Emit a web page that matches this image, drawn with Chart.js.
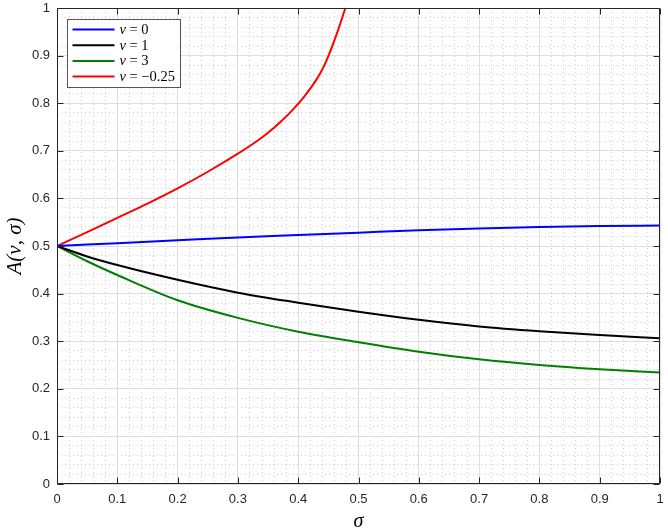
<!DOCTYPE html>
<html><head><meta charset="utf-8">
<script src="https://cdn.jsdelivr.net/npm/chart.js@4"></script>
<style>html,body{margin:0;padding:0;background:#fff}#wrap{width:668px;height:531px;position:relative}</style>
</head><body><div id="wrap"><canvas id="c" width="668" height="531"></canvas></div>
<script>
// ---- data ----
const sigma = [0, 0.05, 0.1, 0.2, 0.3, 0.4, 0.5, 0.6, 0.7, 0.8, 0.9, 1.0];
const nuZero = [0.5, 0.503, 0.506, 0.512, 0.518, 0.523, 0.528, 0.533, 0.537, 0.540, 0.542, 0.543];
const nuOne = [0.5, 0.478, 0.460, 0.429, 0.402, 0.381, 0.362, 0.345, 0.331, 0.321, 0.313, 0.306];
const nuThree = [0.5, 0.468, 0.439, 0.386, 0.349, 0.320, 0.298, 0.278, 0.262, 0.250, 0.241, 0.234];
const sigmaNeg = [0, 0.05, 0.1, 0.15, 0.2, 0.25, 0.3, 0.33, 0.35, 0.37, 0.39, 0.41, 0.43, 0.44, 0.45, 0.46, 0.47, 0.48, 0.483];
const nuNeg = [0.5, 0.529, 0.559, 0.589, 0.621, 0.656, 0.694, 0.719, 0.738, 0.760, 0.785, 0.814, 0.849, 0.871, 0.899, 0.932, 0.968, 1.007, 1.019];
const nuValues = ['0', '1', '3', '\u22120.25'];
const seriesColors = ['#0000ff', '#000000', '#007f00', '#ff0000'];
const xTickValues = [0, 0.1, 0.2, 0.3, 0.4, 0.5, 0.6, 0.7, 0.8, 0.9, 1];
const xTickLabels = ['0', '0.1', '0.2', '0.3', '0.4', '0.5', '0.6', '0.7', '0.8', '0.9', '1'];
const yTickValues = [0, 0.1, 0.2, 0.3, 0.4, 0.5, 0.6, 0.7, 0.8, 0.9, 1];
const yTickLabels = ['0', '0.1', '0.2', '0.3', '0.4', '0.5', '0.6', '0.7', '0.8', '0.9', '1'];
const xTitle = '\u03c3';
const yTitle = 'A(\u03bd, \u03c3)';
const minorStep = 0.02;

const pts = (xs, ys) => xs.map((x, i) => ({x: x, y: ys[i]}));
const seriesData = [pts(sigma, nuZero), pts(sigma, nuOne), pts(sigma, nuThree), pts(sigmaNeg, nuNeg)];

const AX = '#262626';
const tickFont = {family: "'Liberation Sans', Arial, sans-serif", size: 13};

const boxPlugin = {
  id: 'matlabBox',
  afterDraw(chart) {
    const ctx = chart.ctx, a = chart.chartArea;
    const xs = chart.scales.x, ys = chart.scales.y;
    ctx.save();
    ctx.strokeStyle = AX; ctx.lineWidth = 1;
    const L = Math.round(a.left) + 0.5, R = Math.round(a.right) - 0.5;
    const T = Math.round(a.top) + 0.5, B = Math.round(a.bottom) - 0.5;
    ctx.beginPath();
    ctx.rect(L, T, R - L, B - T);
    const tl = 6;
    xs.ticks.forEach(t => {
      const p = Math.round(xs.getPixelForValue(t.value)) + 0.5;
      ctx.moveTo(p, B); ctx.lineTo(p, B - tl);
      ctx.moveTo(p, T); ctx.lineTo(p, T + tl);
    });
    ys.ticks.forEach(t => {
      const p = Math.round(ys.getPixelForValue(t.value)) + 0.5;
      ctx.moveTo(L, p); ctx.lineTo(L + tl, p);
      ctx.moveTo(R, p); ctx.lineTo(R - tl, p);
    });
    ctx.stroke();

    // legend
    const fs = 14.5;
    const upright = fs + "px 'Liberation Serif', 'Times New Roman', serif";
    const italic = 'italic ' + upright;
    const lineLen = 42, rowH = 15.7;
    const items = chart.data.datasets.map((d, i) => ({color: d.borderColor, val: nuValues[i]}));
    let maxW = 0;
    items.forEach(it => {
      ctx.font = italic; const w1 = ctx.measureText('\u03bd').width;
      ctx.font = upright; const w2 = ctx.measureText(' = ' + it.val).width;
      it.w1 = w1; maxW = Math.max(maxW, w1 + w2);
    });
    const bx = Math.round(a.left + 10) + 0.5, by = Math.round(a.top + 11) + 0.5;
    const bw = Math.round(5 + lineLen + 5 + maxW + 6), bh = Math.round(rowH * items.length + 5);
    ctx.fillStyle = '#ffffff';
    ctx.fillRect(bx, by, bw, bh);
    ctx.strokeStyle = '#555555'; ctx.lineWidth = 1;
    ctx.strokeRect(bx, by, bw, bh);
    items.forEach((it, i) => {
      const cy = by + 10 + i * rowH;
      ctx.strokeStyle = it.color; ctx.lineWidth = 2;
      ctx.beginPath(); ctx.moveTo(bx + 5, cy); ctx.lineTo(bx + 5 + lineLen, cy); ctx.stroke();
      ctx.fillStyle = '#000';
      ctx.textBaseline = 'middle';
      const tx = bx + 5 + lineLen + 5;
      ctx.font = italic; ctx.fillText('\u03bd', tx, cy + 0.5);
      ctx.font = upright; ctx.fillText(' = ' + it.val, tx + it.w1, cy + 0.5);
    });
    ctx.restore();
  }
};

new Chart(document.getElementById('c'), {
  type: 'line',
  data: {
    datasets: seriesData.map((d, i) => ({
      label: '\u03bd = ' + nuValues[i],
      data: d,
      borderColor: seriesColors[i],
      backgroundColor: seriesColors[i],
      borderWidth: 2,
      pointRadius: 0,
      fill: false,
      cubicInterpolationMode: 'monotone'
    }))
  },
  options: {
    responsive: false,
    animation: false,
    devicePixelRatio: 1,
    layout: {padding: {top: 8, right: 8, left: 0, bottom: 0}},
    plugins: {legend: {display: false}, tooltip: {enabled: false}},
    scales: {
      xMinor: {
        type: 'linear', position: 'bottom', min: 0, max: 1,
        ticks: {display: false, stepSize: minorStep},
        grid: {color: '#cfcfcf', lineWidth: 1, drawTicks: false},
        border: {display: false, dash: [1, 3]},
        afterFit: s => { s.height = 0; s.paddingLeft = 0; s.paddingRight = 0; }
      },
      yMinor: {
        type: 'linear', position: 'left', min: 0, max: 1,
        ticks: {display: false, stepSize: minorStep},
        grid: {color: '#cfcfcf', lineWidth: 1, drawTicks: false},
        border: {display: false, dash: [1, 3]},
        afterFit: s => { s.width = 0; s.paddingTop = 0; s.paddingBottom = 0; }
      },
      x: {
        type: 'linear', position: 'bottom', min: 0, max: 1,
        afterBuildTicks: s => { s.ticks = xTickValues.map(v => ({value: v})); },
        afterFit: s => { s.height = 47; s.paddingLeft = 0; s.paddingRight = 0; },
        ticks: {callback: (v, i) => xTickLabels[i], font: tickFont, color: AX, padding: 8, maxRotation: 0, autoSkip: false},
        grid: {color: '#dedede', lineWidth: 1, drawTicks: false},
        border: {display: false},
        title: {display: true, text: xTitle, color: '#000',
          font: {family: "'Liberation Serif', 'Times New Roman', serif", size: 20, style: 'italic', lineHeight: 1},
          padding: {top: 0, bottom: -1}}
      },
      y: {
        type: 'linear', position: 'left', min: 0, max: 1,
        afterBuildTicks: s => { s.ticks = yTickValues.map(v => ({value: v})); },
        afterFit: s => { s.width = 57; s.paddingTop = 0; s.paddingBottom = 0; },
        ticks: {callback: (v, i) => yTickLabels[i], font: tickFont, color: AX, padding: 7, autoSkip: false},
        grid: {color: '#dedede', lineWidth: 1, drawTicks: false},
        border: {display: false},
        title: {display: true, text: yTitle, color: '#000',
          font: {family: "'Liberation Serif', 'Times New Roman', serif", size: 21, style: 'italic', lineHeight: 1},
          padding: {top: 5, bottom: 0}}
      }
    }
  },
  plugins: [boxPlugin]
});
</script></body></html>
